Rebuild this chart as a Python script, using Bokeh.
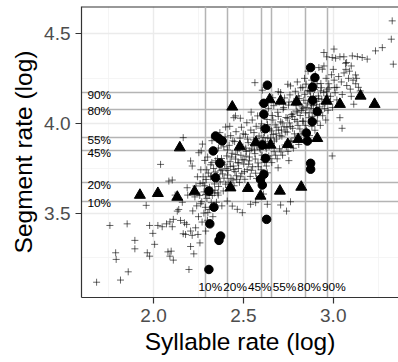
from bokeh.plotting import figure
from bokeh.models import FixedTicker, Range1d, PrintfTickFormatter
from bokeh.core.properties import value
from bokeh.embed import file_html
from bokeh.resources import INLINE

# ---------------- data ----------------
pct_labels = ["10%", "20%", "45%", "55%", "80%", "90%"]
pct_syll = [2.291, 2.409, 2.600, 2.657, 2.848, 2.967]   # vertical lines (x)
pct_seg = [3.567, 3.669, 3.846, 3.920, 4.078, 4.169]    # horizontal lines (y)

x_ticks = [2.0, 2.5, 3.0]
x_minor = [1.75, 2.25, 2.75, 3.25]
y_ticks = [3.5, 4.0, 4.5]
y_minor = [3.25, 3.75, 4.25]

cross_pts = [
    (1.683, 3.115), (1.816, 3.127), (1.859, 3.173), (1.789, 3.279), (1.792, 3.242),
    (1.757, 3.431), (1.853, 3.440), (1.896, 3.348), (1.896, 3.301), (1.965, 3.279),
    (1.978, 3.260), (1.959, 3.543), (1.978, 3.431), (1.996, 3.387), (2.006, 3.326),
    (2.024, 3.431), (2.048, 3.424), (2.072, 3.440), (2.091, 3.451), (2.110, 3.465),
    (2.104, 3.424), (2.132, 3.511), (2.080, 3.284), (2.098, 3.288), (2.091, 3.260),
    (2.110, 3.238), (2.150, 3.459), (2.172, 3.446), (2.184, 3.437), (2.165, 3.385),
    (2.178, 3.381), (2.206, 3.400), (2.215, 3.376), (2.206, 3.314), (2.224, 3.273),
    (2.197, 3.186), (2.234, 3.418), (2.247, 3.381), (2.258, 3.334),
    (2.165, 3.920), (2.039, 3.771), (2.085, 3.678), (2.104, 3.684), (2.206, 3.790),
    (2.215, 3.762), (2.252, 3.836), (2.265, 3.846), (2.187, 3.641), (2.140, 3.520),
    (2.160, 3.560), (2.190, 3.600), (2.230, 3.590), (2.240, 3.540), (2.250, 3.480),
    (2.270, 3.450), (2.280, 3.500), (2.120, 3.600),
    (2.410, 3.567), (2.438, 3.539), (2.466, 3.521), (2.494, 3.502), (2.540, 3.549),
    (2.568, 3.558), (2.633, 3.549), (2.707, 3.545), (2.740, 3.511), (2.762, 3.563),
    (2.290, 3.400), (2.300, 3.460), (2.310, 3.520), (2.330, 3.480), (2.350, 3.560),
    (2.360, 3.600), (2.380, 3.540), (2.612, 3.606),
    (2.948, 4.394), (2.963, 4.370), (2.994, 4.366), (3.013, 4.362), (3.037, 4.370),
    (3.068, 4.334), (3.106, 4.375), (3.134, 4.371), (3.161, 4.366), (3.189, 4.357),
    (3.235, 4.403), (3.273, 4.421), (3.323, 4.468), (3.328, 4.570), (3.334, 4.329),
    (2.920, 4.310), (2.939, 4.301), (2.948, 4.319), (3.059, 4.370), (3.004, 4.413),
    (3.074, 4.338), (3.100, 4.319), (3.124, 4.269), (3.114, 4.106), (3.037, 4.031),
    (3.049, 3.972), (2.994, 3.818),
    (2.960, 4.250), (2.975, 4.220), (2.990, 4.270), (3.005, 4.240), (3.020, 4.200),
    (3.030, 4.260), (3.045, 4.230), (3.060, 4.280), (3.075, 4.210), (3.085, 4.250),
    (3.095, 4.190), (3.110, 4.240), (3.125, 4.220), (3.140, 4.200), (3.150, 4.180),
    (3.010, 4.170), (2.985, 4.150), (3.050, 4.160), (2.970, 4.190), (3.000, 4.300),
    (3.070, 4.300), (3.090, 4.290), (3.020, 4.130), (3.100, 4.150), (3.130, 4.250),
    (2.564, 4.226), (2.605, 4.184), (2.747, 4.217), (2.762, 4.208), (2.694, 4.176),
    (2.707, 4.171), (2.447, 4.031), (2.456, 4.041), (2.401, 3.979),
    (2.840, 4.250), (2.860, 4.290), (2.800, 4.230), (2.880, 4.240), (2.900, 4.270),
    (2.830, 4.200), (2.870, 4.180), (2.910, 4.220), (2.930, 4.180), (2.890, 4.150),
    (2.268, 3.563), (2.281, 3.618), (2.259, 3.664), (2.276, 3.702), (2.263, 3.741),
    (2.285, 3.793), (2.272, 3.884),
    (2.297, 3.582), (2.311, 3.644), (2.293, 3.687), (2.305, 3.723), (2.318, 3.769),
    (2.301, 3.812), (2.289, 3.604),
    (2.327, 3.598), (2.339, 3.662), (2.322, 3.706), (2.334, 3.748), (2.346, 3.791),
    (2.331, 3.842), (2.325, 3.903), (2.342, 3.627),
    (2.358, 3.612), (2.371, 3.674), (2.353, 3.713), (2.366, 3.757), (2.378, 3.804),
    (2.361, 3.862), (2.369, 3.948), (2.352, 3.688),
    (2.388, 3.623), (2.401, 3.661), (2.384, 3.718), (2.395, 3.772), (2.407, 3.818),
    (2.391, 3.869), (2.398, 3.924), (2.381, 3.741),
    (2.418, 3.642), (2.431, 3.693), (2.414, 3.737), (2.426, 3.786), (2.437, 3.833),
    (2.421, 3.877), (2.429, 3.931), (2.412, 3.712), (2.424, 3.983),
    (2.448, 3.652), (2.461, 3.708), (2.444, 3.762), (2.456, 3.801), (2.467, 3.849),
    (2.451, 3.898), (2.459, 3.953), (2.442, 3.684), (2.453, 3.731),
    (2.478, 3.671), (2.491, 3.722), (2.474, 3.779), (2.486, 3.822), (2.497, 3.868),
    (2.481, 3.917), (2.489, 3.978), (2.472, 3.748), (2.483, 4.028),
    (2.508, 3.688), (2.521, 3.742), (2.504, 3.797), (2.516, 3.843), (2.527, 3.892),
    (2.511, 3.938), (2.519, 4.003), (2.502, 3.773), (2.513, 3.862),
    (2.538, 3.704), (2.551, 3.758), (2.534, 3.812), (2.546, 3.857), (2.557, 3.907),
    (2.541, 3.962), (2.549, 4.018), (2.532, 3.791), (2.543, 4.062),
    (2.568, 3.722), (2.581, 3.779), (2.564, 3.831), (2.576, 3.878), (2.587, 3.929),
    (2.571, 3.983), (2.579, 4.041), (2.562, 3.852), (2.573, 3.693),
    (2.598, 3.741), (2.611, 3.798), (2.594, 3.853), (2.606, 3.902), (2.617, 3.948),
    (2.601, 3.997), (2.609, 4.058), (2.592, 3.881), (2.603, 4.112),
    (2.628, 3.762), (2.641, 3.818), (2.624, 3.871), (2.636, 3.917), (2.647, 3.968),
    (2.631, 4.021), (2.639, 4.083), (2.622, 3.897), (2.633, 3.724),
    (2.658, 3.781), (2.671, 3.842), (2.654, 3.888), (2.666, 3.938), (2.677, 3.991),
    (2.661, 4.043), (2.669, 4.098), (2.652, 3.918), (2.663, 4.142),
    (2.688, 3.802), (2.701, 3.858), (2.684, 3.912), (2.696, 3.962), (2.707, 4.008),
    (2.691, 4.061), (2.699, 4.118), (2.682, 3.941), (2.693, 3.752),
    (2.718, 3.822), (2.731, 3.879), (2.714, 3.928), (2.726, 3.981), (2.737, 4.032),
    (2.721, 4.078), (2.729, 4.141), (2.712, 3.962),
    (2.748, 3.843), (2.761, 3.898), (2.744, 3.951), (2.756, 4.002), (2.767, 4.048),
    (2.751, 4.101), (2.759, 4.158), (2.742, 3.978), (2.753, 3.792),
    (2.778, 3.861), (2.791, 3.918), (2.774, 3.972), (2.786, 4.021), (2.797, 4.068),
    (2.781, 4.122), (2.789, 4.178), (2.772, 4.038),
    (2.808, 3.882), (2.821, 3.941), (2.804, 3.988), (2.816, 4.043), (2.827, 4.091),
    (2.811, 4.138), (2.819, 4.197), (2.802, 4.062),
    (2.838, 3.908), (2.851, 3.962), (2.834, 4.011), (2.846, 4.058), (2.857, 4.112),
    (2.841, 4.161), (2.849, 4.218), (2.832, 4.083),
    (2.868, 3.932), (2.881, 3.983), (2.864, 4.031), (2.876, 4.082), (2.887, 4.128),
    (2.871, 4.178), (2.879, 4.103),
    (2.898, 3.961), (2.911, 4.012), (2.894, 4.058), (2.906, 4.103), (2.917, 4.152),
    (2.901, 4.198), (2.909, 4.122),
    (2.928, 3.988), (2.941, 4.042), (2.924, 4.091), (2.936, 4.133), (2.947, 4.171),
    (2.931, 4.221),
    (2.958, 4.018), (2.971, 4.072), (2.954, 4.112), (2.966, 4.151), (2.977, 4.198),
    (2.283, 3.652), (2.296, 3.741), (2.309, 3.598), (2.317, 3.702), (2.324, 3.781),
    (2.338, 3.612), (2.343, 3.728), (2.356, 3.803), (2.362, 3.648), (2.374, 3.736),
    (2.383, 3.783), (2.392, 3.694), (2.404, 3.748), (2.411, 3.852), (2.419, 3.672),
    (2.427, 3.759), (2.433, 3.812), (2.441, 3.902), (2.447, 3.742), (2.458, 3.826),
    (2.463, 3.688), (2.469, 3.781), (2.476, 3.858), (2.484, 3.702), (2.493, 3.796),
    (2.499, 3.941), (2.506, 3.731), (2.514, 3.817), (2.523, 3.912), (2.529, 3.772),
    (2.536, 3.848), (2.544, 3.738), (2.553, 3.882), (2.559, 3.948), (2.566, 3.801),
    (2.574, 3.914), (2.583, 3.758), (2.589, 3.862), (2.596, 3.973), (2.604, 3.822),
    (2.613, 3.921), (2.619, 3.781), (2.627, 3.858), (2.634, 3.992), (2.643, 3.872),
    (2.649, 3.803), (2.656, 3.958), (2.664, 4.018), (2.672, 3.901), (2.679, 3.822),
    (2.686, 3.978), (2.694, 4.038), (2.703, 3.931), (2.709, 3.841), (2.716, 4.002),
    (2.724, 4.088), (2.733, 3.952), (2.739, 3.868), (2.746, 4.028), (2.754, 4.118),
    (2.763, 3.982), (2.769, 3.902), (2.776, 4.052), (2.784, 3.941), (2.793, 4.098),
    (2.799, 4.011), (2.806, 4.152), (2.814, 3.968), (2.823, 4.071), (2.829, 4.012),
    (2.836, 4.128), (2.844, 3.988), (2.853, 4.088), (2.859, 4.182), (2.866, 4.058),
    (2.874, 4.148), (2.883, 4.038), (2.889, 4.098), (2.896, 4.188), (2.904, 4.072),
    (2.913, 4.048), (2.919, 4.138), (2.926, 4.062), (2.934, 4.198), (2.943, 4.108),
    (2.952, 4.082), (2.962, 4.178), (2.983, 4.121), (2.996, 4.088), (3.008, 4.198),
    (2.218, 3.512), (2.236, 3.651), (2.244, 3.702), (2.257, 3.598), (2.262, 3.552),
    (2.275, 3.668), (2.288, 3.532), (2.302, 3.502), (2.321, 3.558), (2.337, 3.532),
]

circle_pts = [
    (2.874, 4.310), (2.898, 4.254), (2.633, 4.212), (2.885, 4.202), (2.614, 4.111),
    (2.885, 4.128), (2.911, 4.065), (2.883, 4.009), (2.614, 4.050), (2.623, 3.970),
    (2.850, 3.946), (2.856, 3.901), (2.345, 3.929), (2.364, 3.915), (2.382, 3.901),
    (2.332, 3.846), (2.605, 3.879), (2.623, 3.805), (2.369, 3.778), (2.874, 3.777),
    (2.874, 3.744), (2.614, 3.716), (2.595, 3.688), (2.345, 3.697), (2.308, 3.623),
    (2.336, 3.533), (2.313, 3.440), (2.373, 3.372), (2.364, 3.348), (2.308, 3.186),
    (2.629, 3.465), (2.605, 3.656),
]

triangle_pts = [
    (2.438, 4.091), (2.646, 4.132), (2.707, 4.124), (2.796, 4.119), (2.963, 4.124),
    (3.037, 4.106), (3.152, 4.152), (3.230, 4.106), (2.480, 3.870), (2.569, 3.892),
    (2.651, 3.879), (2.747, 3.883), (2.805, 3.911), (2.911, 3.916), (2.146, 3.864),
    (1.924, 3.600), (2.024, 3.610), (2.132, 3.589), (2.228, 3.619), (2.428, 3.641),
    (2.525, 3.638), (2.595, 3.595), (2.703, 3.623), (2.822, 3.645),
]

x_lo, x_hi = 1.599, 3.363
y_lo, y_hi = 3.030, 4.650

FONT = "Liberation Sans"

p = figure(width=398, height=362, output_backend="svg", toolbar_location=None,
           x_range=Range1d(x_lo, x_hi), y_range=Range1d(y_lo, y_hi),
           min_border_left=81, min_border_right=0, min_border_top=6,
           min_border_bottom=65, outline_line_color=None,
           x_axis_label="Syllable rate (log)", y_axis_label="Segment rate (log)")

p.background_fill_color = "white"
p.border_fill_color = "white"

p.xaxis.ticker = FixedTicker(ticks=x_ticks, minor_ticks=x_minor)
p.yaxis.ticker = FixedTicker(ticks=y_ticks, minor_ticks=y_minor)
p.xaxis.formatter = PrintfTickFormatter(format="%.1f")
p.yaxis.formatter = PrintfTickFormatter(format="%.1f")

for ax in (p.xaxis[0], p.yaxis[0]):
    ax.axis_line_color = "#333333"
    ax.axis_line_width = 1.2
    ax.major_tick_line_color = "#333333"
    ax.major_tick_line_width = 1.2
    ax.major_tick_in = 0
    ax.major_tick_out = 6
    ax.minor_tick_line_color = None
    ax.major_label_text_font = FONT
    ax.major_label_text_font_size = "19px"
    ax.major_label_text_color = "#4D4D4D"
    ax.axis_label_text_font = FONT
    ax.axis_label_text_font_size = "24.5px"
    ax.axis_label_text_font_style = "normal"
    ax.axis_label_text_color = "black"
    ax.major_label_standoff = 5
p.xaxis.axis_label_standoff = 3
p.yaxis.axis_label_standoff = 4

p.xgrid.grid_line_color = "#EBEBEB"
p.ygrid.grid_line_color = "#EBEBEB"
p.xgrid.grid_line_width = 1.4
p.ygrid.grid_line_width = 1.4
p.xgrid.minor_grid_line_color = "#F2F2F2"
p.ygrid.minor_grid_line_color = "#F2F2F2"
p.xgrid.minor_grid_line_width = 0.8
p.ygrid.minor_grid_line_width = 0.8

# top border of the panel
p.hspan(y=[y_hi], line_color="#333333", line_width=2)

# percentile lines
p.hspan(y=pct_seg, line_color="#B4B4B4", line_width=1.5)
p.vspan(x=pct_syll, line_color="#B4B4B4", line_width=1.5)

# points
p.scatter([q[0] for q in cross_pts], [q[1] for q in cross_pts], marker="cross",
          size=7, line_color="black", line_alpha=0.6, line_width=1)
p.scatter([q[0] for q in circle_pts], [q[1] for q in circle_pts], marker="circle",
          size=8.5, fill_color="black", line_color="black")
p.scatter([q[0] for q in triangle_pts], [q[1] for q in triangle_pts], marker="triangle",
          size=11, fill_color="black", line_color="black")

# percentile labels
p.text(x=[x_lo] * len(pct_seg), y=pct_seg, text=pct_labels, x_offset=6, y_offset=2,
       text_font=value(FONT), text_font_size="11.8px", text_color="black",
       text_align="left", text_baseline="middle")
p.text(x=[pct_syll[0]] * len(pct_labels), y=[y_lo] * len(pct_labels), text=pct_labels,
       x_offset=[-7.3 + 24.7 * i for i in range(len(pct_labels))], y_offset=-11,
       text_font=value(FONT), text_font_size="11.8px", text_color="black",
       text_align="left", text_baseline="middle")

open("out.html", "w").write(file_html(p, INLINE))
